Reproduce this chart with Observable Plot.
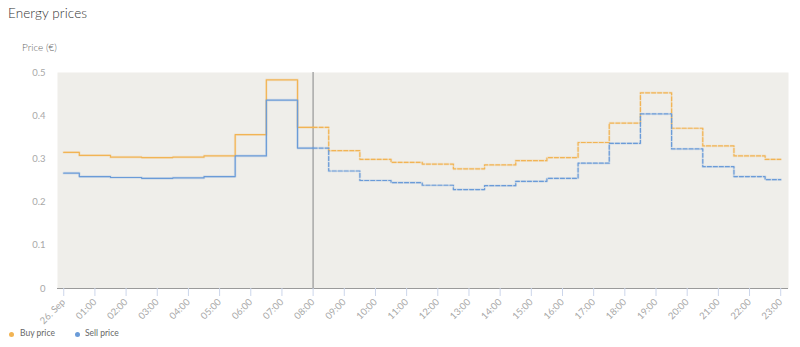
<!DOCTYPE html>
<html>
<head>
<meta charset="utf-8">
<script src="https://cdn.jsdelivr.net/npm/d3@7"></script>
<script src="https://cdn.jsdelivr.net/npm/@observablehq/plot@0.6"></script>
<style>
  html, body { margin: 0; padding: 0; background: #fff; width: 800px; height: 347px; overflow: hidden; }
  body { position: relative; font-family: Lato, "Open Sans", sans-serif; }
  #title { position: absolute; left: 8px; top: 5px; font-size: 13.5px; font-weight: 300; color: #333; letter-spacing: 0.1px; }
  #ylabel { position: absolute; left: 22px; top: 41px; font-size: 10px; font-weight: 300; color: #666; }
  #chart { position: absolute; left: 0; top: 0; }
  #legend { position: absolute; left: 0; top: 328px; font-size: 8.5px; color: #666; }
  .item { position: absolute; white-space: nowrap; }
  .dot { position: absolute; width: 5px; height: 5px; border-radius: 50%; top: 4px; }
</style>
</head>
<body>
<div id="chart"></div>
<div id="title">Energy prices</div>
<div id="ylabel">Price (€)</div>
<div id="legend"></div>
<script>
const hours = [0,1,2,3,4,5,6,7,8,9,10,11,12,13,14,15,16,17,18,19,20,21,22,23];
const hourLabels = ["26. Sep","01:00","02:00","03:00","04:00","05:00","06:00","07:00","08:00","09:00","10:00","11:00","12:00","13:00","14:00","15:00","16:00","17:00","18:00","19:00","20:00","21:00","22:00","23:00"];
const buyPrice = [0.315,0.308,0.304,0.303,0.304,0.307,0.356,0.483,0.373,0.319,0.299,0.292,0.288,0.277,0.286,0.296,0.303,0.338,0.383,0.453,0.371,0.330,0.307,0.299];
const sellPrice = [0.267,0.259,0.257,0.255,0.256,0.259,0.307,0.436,0.325,0.272,0.250,0.245,0.239,0.229,0.238,0.248,0.255,0.290,0.336,0.404,0.323,0.282,0.259,0.252];
const yTicks = [0, 0.1, 0.2, 0.3, 0.4, 0.5];
const yTickLabels = ["0", "0.1", "0.2", "0.3", "0.4", "0.5"];
const nowHour = 8;
const seriesNames = ["Buy price", "Sell price"];
const seriesColors = ["#f2b454", "#6a9bd8"];

const rows = [];
hours.forEach((h, i) => {
  rows.push({h, v: buyPrice[i], s: seriesNames[0]});
  rows.push({h, v: sellPrice[i], s: seriesNames[1]});
});
const past = rows.filter(d => d.h <= nowHour);
const future = rows.filter(d => d.h >= nowHour);
const colorOf = d => seriesColors[seriesNames.indexOf(d.s)];

const chart = Plot.plot({
  width: 800,
  height: 330,
  marginTop: 72,
  marginBottom: 42,
  marginLeft: 57,
  marginRight: 12,
  style: {fontFamily: "Lato, 'Open Sans', sans-serif", background: "transparent"},
  x: {domain: [-0.2, 23.25], axis: null, label: null},
  y: {domain: [0, 0.5], axis: null, label: null},
  marks: [
    Plot.frame({fill: "#efeeea", stroke: null}),
    Plot.ruleX([nowHour], {stroke: "#a8a8a8", strokeWidth: 1.5}),
    Plot.line(past, {x: "h", y: "v", z: "s", stroke: colorOf, curve: "step", strokeWidth: 2.6, strokeOpacity: 0.2}),
    Plot.line(future, {x: "h", y: "v", z: "s", stroke: colorOf, curve: "step", strokeWidth: 2.6, strokeOpacity: 0.2, strokeDasharray: "4,2"}),
    Plot.line(past, {x: "h", y: "v", z: "s", stroke: colorOf, curve: "step", strokeWidth: 1.2}),
    Plot.line(future, {x: "h", y: "v", z: "s", stroke: colorOf, curve: "step", strokeWidth: 1.2, strokeDasharray: "4,2"}),
    Plot.ruleY([0], {stroke: "#9a9a9a", strokeWidth: 1.2}),
    Plot.axisX(hours, {
      label: null,
      tickSize: 8, tickPadding: 4, tickRotate: -45,
      stroke: "#ccd6eb", fill: "#a8a8a8", fontSize: 9.5,
      tickFormat: (d) => hourLabels[hours.indexOf(d)]
    }),
    Plot.axisY(yTicks, {
      label: null,
      tickSize: 0, tickPadding: 12, fill: "#a8a8a8", fontSize: 9.5,
      tickFormat: (d) => yTickLabels[yTicks.indexOf(d)]
    })
  ]
});
document.getElementById("chart").appendChild(chart);

const legend = document.getElementById("legend");
const legendX = [[11, 20], [77, 85]];
seriesNames.forEach((name, i) => {
  const dot = document.createElement("div");
  dot.className = "dot";
  dot.style.left = (legendX[i][0] - 2.5) + "px";
  dot.style.background = seriesColors[i];
  legend.appendChild(dot);
  const t = document.createElement("div");
  t.className = "item";
  t.style.left = legendX[i][1] + "px";
  t.textContent = name;
  legend.appendChild(t);
});
</script>
</body>
</html>
